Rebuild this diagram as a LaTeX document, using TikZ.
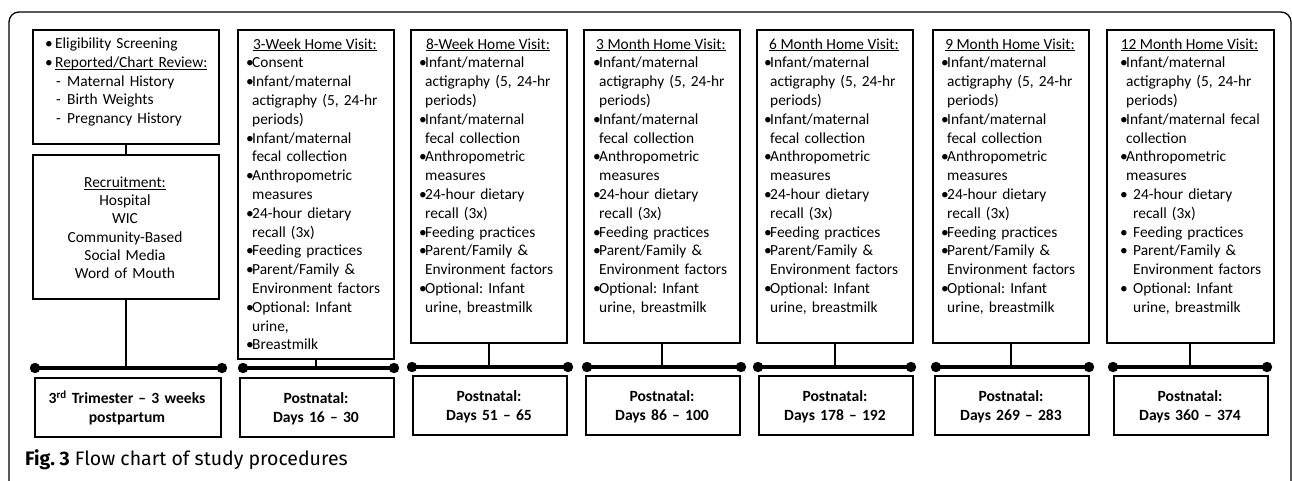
\documentclass[tikz,border=0pt]{standalone}
\usepackage{fontspec}
\setmainfont{Carlito}
\newfontfamily\capfont{Fira Sans}
\frenchspacing
\newcommand\myul[1]{\setbox0\hbox{#1}\rlap{\rule[-2.2pt]{\wd0}{0.9pt}}\box0}
\newcommand\B{\makebox[6pt][l]{•}}
\newcommand\C{\hspace*{6pt}}
\newcommand\BB{\makebox[13pt][l]{•}}
\newcommand\CC{\hspace*{13pt}}
\begin{document}
\begin{tikzpicture}[x=1pt,y=-1pt,
  box/.style={draw, line width=1.6pt, inner sep=0pt, anchor=north west},
  body/.style={inner sep=0pt, font=\fontsize{15.4}{18.8}\selectfont},
  lst/.style={body, align=left, anchor=base west, text width=#1},
  ttl/.style={body, anchor=base},
  btm/.style={body, font=\fontsize{15.6}{18.8}\selectfont\bfseries, align=center, anchor=base, text width=#1},
  conn/.style={line width=1.8pt},
  tl/.style={line width=4pt},
  dot/.style={fill=black}]
\useasboundingbox (0,0) rectangle (1292,480);
% outer frame
\draw[line width=1.3pt, rounded corners=10pt] (9,484) -- (9,12) -- (1291,12) -- (1291,484);

% ---------- column 1 ----------
\node[box, minimum width=186pt, minimum height=114pt] (top1) at (32,29) {};
\node[box, minimum width=186pt, minimum height=144pt] (rec1) at (32,154) {};
\node[box, minimum width=186pt, minimum height=59pt] (bot1) at (34,377) {};
\node[lst=170pt] (l1) at (45,48.5) {\makebox[10pt][l]{•}Eligibility Screening\\
\makebox[10pt][l]{•}\myul{Reported/Chart Review:}\\
\hspace*{11pt}\makebox[11pt][l]{-}Maternal History\\
\hspace*{11pt}\makebox[11pt][l]{-}Birth Weights\\
\hspace*{11pt}\makebox[11pt][l]{-}Pregnancy History};
\node[body, align=center, anchor=base, text width=180pt, font=\fontsize{15.4}{18.2}\selectfont] (r1) at (125,187.5)
  {\myul{Recruitment:}\\Hospital\\WIC\\Community-Based\\Social Media\\Word of Mouth};
\node[btm=180pt] (d1) at (127,403.5) {3\textsuperscript{rd} Trimester – 3 weeks\\postpartum};
\coordinate (L1) at (35,368); \coordinate (R1) at (222,368);

% ---------- column 2 ----------
\node[box, minimum width=156pt, minimum height=329pt] (top2) at (237,29) {};
\node[box, minimum width=154pt, minimum height=59pt] (bot2) at (239,377) {};
\node[ttl] (t2) at (315,49) {\myul{3-Week Home Visit:}};
\node[lst=145pt] (l2) at (246,67.8) {\B Consent\\
\B Infant/maternal\\
\C actigraphy (5, 24-hr\\
\C periods)\\
\B Infant/maternal\\
\C fecal collection\\
\B Anthropometric\\
\C measures\\
\B 24-hour dietary\\
\C recall (3x)\\
\B Feeding practices\\
\B Parent/Family \&\\
\C Environment factors\\
\B Optional: Infant\\
\C urine,\\
\B Breastmilk};
\node[btm=150pt] (d2) at (316,403.5) {Postnatal:\\Days 16 – 30};
\coordinate (L2) at (243,368); \coordinate (R2) at (394,368);

% ---------- columns 3-6 ----------
\foreach \n/\bx/\bl/\ttl/\bbx/\bbw/\days/\lx/\rx in {
  3/410/419/8-Week Home Visit:/412/154/Days 51 – 65/412/568,
  4/583/593/3 Month Home Visit:/585/154/Days 86 – 100/587/741,
  5/756/764/6 Month Home Visit:/758/154/Days 178 – 192/758/911,
  6/932/941/9 Month Home Visit:/934/154/Days 269 – 283/936/1089}{
  \node[box, minimum width=156pt, minimum height=313pt] (top\n) at (\bx,29) {};
  \node[box, minimum width=\bbw pt, minimum height=59pt] (bot\n) at (\bbx,375) {};
  \node[ttl] (t\n) at (\bx+78,49) {\myul{\ttl}};
  \node[lst=145pt] (l\n) at (\bl,67.8) {\B Infant/maternal\\
  \C actigraphy (5, 24-hr\\
  \C periods)\\
  \B Infant/maternal\\
  \C fecal collection\\
  \B Anthropometric\\
  \C measures\\
  \B 24-hour dietary\\
  \C recall (3x)\\
  \B Feeding practices\\
  \B Parent/Family \&\\
  \C Environment factors\\
  \B Optional: Infant\\
  \C urine, breastmilk};
  \node[btm=150pt] (d\n) at (\bbx+77,401.5) {Postnatal:\\\days};
  \coordinate (L\n) at (\lx,367); \coordinate (R\n) at (\rx,367);
}

% ---------- column 7 ----------
\node[box, minimum width=167pt, minimum height=313pt] (top7) at (1106,29) {};
\node[box, minimum width=154pt, minimum height=59pt] (bot7) at (1113,375) {};
\node[ttl] (t7) at (1189.5,49) {\myul{12 Month Home Visit:}};
\node[lst=150pt] (l7) at (1120,67.8) {\B Infant/maternal\\
\C actigraphy (5, 24-hr\\
\C periods)\\
\B Infant/maternal fecal\\
\C collection\\
\B Anthropometric\\
\C measures\\
\BB 24-hour dietary\\
\CC recall (3x)\\
\BB Feeding practices\\
\BB Parent/Family \&\\
\CC Environment factors\\
\BB Optional: Infant\\
\CC urine, breastmilk};
\node[btm=150pt] (d7) at (1190,401.5) {Postnatal:\\Days 360 – 374};
\coordinate (L7) at (1113,367); \coordinate (R7) at (1267,367);

% ---------- connectors and timelines ----------
\draw[conn] (top1.south) -- (rec1.north);
\foreach \n in {1,...,7}{
  \draw[tl] (L\n) -- (R\n);
  \fill[dot] (L\n) circle (5.2pt);
  \fill[dot] (R\n) circle (5.2pt);
}
\draw[conn] (rec1.south) -- (rec1.south |- L1);
\foreach \n in {2,...,7}{
  \draw[conn] (top\n.south) -- (top\n.south |- L\n);
}

% caption
\node[inner sep=0pt, anchor=base west, font=\capfont\fontsize{19.5}{22}\selectfont] (cap) at (25,465)
  {\textbf{Fig. 3} Flow chart of study procedures};
\end{tikzpicture}
\end{document}
